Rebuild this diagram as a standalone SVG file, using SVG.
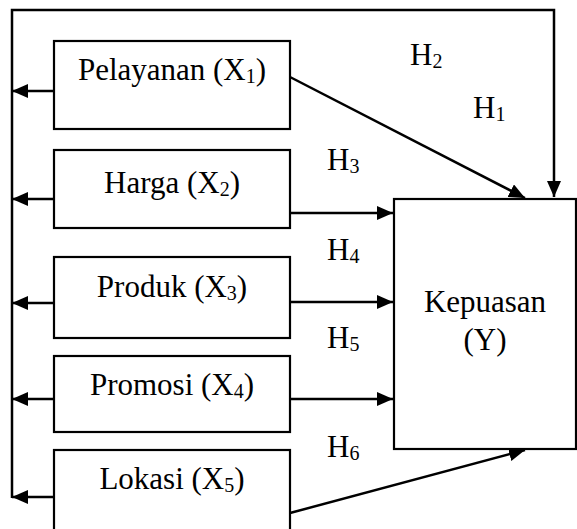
<svg xmlns="http://www.w3.org/2000/svg" width="577" height="529" viewBox="0 0 577 529">
<style>
.box{fill:#fff;stroke:#000;stroke-width:2.2}
.ln{fill:none;stroke:#000;stroke-width:2.5}
text{font-family:"Liberation Serif","Times New Roman",serif;font-size:31px;fill:#000}
.c{text-anchor:middle}
.s{font-size:20px}
</style>
<defs>
<marker id="ah" markerUnits="userSpaceOnUse" viewBox="0 0 16 14" refX="16" refY="7" markerWidth="16" markerHeight="14" orient="auto">
<path d="M0 0 L16 7 L0 14 Z" fill="#000"/>
</marker>
</defs>
<rect width="577" height="529" fill="#fff"/>
<g id="connectors">
<path class="ln" d="M12 498 V10 H554 V197" marker-end="url(#ah)"/>
<path class="ln" d="M54 91 H12" marker-end="url(#ah)"/>
<path class="ln" d="M54 199 H12" marker-end="url(#ah)"/>
<path class="ln" d="M54 303 H12" marker-end="url(#ah)"/>
<path class="ln" d="M54 399 H12" marker-end="url(#ah)"/>
<path class="ln" d="M54 497 H12" marker-end="url(#ah)"/>
<path class="ln" d="M290 77 L525 198" marker-end="url(#ah)"/>
<path class="ln" d="M290 213 H393" marker-end="url(#ah)"/>
<path class="ln" d="M290 302 H393" marker-end="url(#ah)"/>
<path class="ln" d="M290 399 H393" marker-end="url(#ah)"/>
<path class="ln" d="M290 513 L525 450" marker-end="url(#ah)"/>
</g>
<g id="labels">
<text x="410" y="65">H<tspan class="s" dy="3">2</tspan></text>
<text x="473" y="118">H<tspan class="s" dy="3">1</tspan></text>
<text x="327" y="170">H<tspan class="s" dy="3">3</tspan></text>
<text x="327" y="260">H<tspan class="s" dy="3">4</tspan></text>
<text x="327" y="348">H<tspan class="s" dy="3">5</tspan></text>
<text x="327" y="457">H<tspan class="s" dy="3">6</tspan></text>
</g>
<g id="pelayanan">
<rect class="box" x="54" y="41" width="236" height="88"/>
<text class="c" x="172" y="80">Pelayanan (X<tspan class="s" dy="3">1</tspan><tspan dy="-3">)</tspan></text>
</g>
<g id="harga">
<rect class="box" x="54" y="150" width="236" height="78"/>
<text class="c" x="172" y="193">Harga (X<tspan class="s" dy="3">2</tspan><tspan dy="-3">)</tspan></text>
</g>
<g id="produk">
<rect class="box" x="54" y="257" width="236" height="81"/>
<text class="c" x="172" y="297">Produk (X<tspan class="s" dy="3">3</tspan><tspan dy="-3">)</tspan></text>
</g>
<g id="promosi">
<rect class="box" x="54" y="356" width="236" height="76"/>
<text class="c" x="172" y="395">Promosi (X<tspan class="s" dy="3">4</tspan><tspan dy="-3">)</tspan></text>
</g>
<g id="lokasi">
<rect class="box" x="54" y="450" width="236" height="90"/>
<text class="c" x="172" y="489">Lokasi (X<tspan class="s" dy="3">5</tspan><tspan dy="-3">)</tspan></text>
</g>
<g id="kepuasan">
<rect class="box" x="394" y="199" width="182" height="250"/>
<text class="c" x="485" y="312">Kepuasan</text>
<text class="c" x="485" y="350">(Y)</text>
</g>
</svg>
